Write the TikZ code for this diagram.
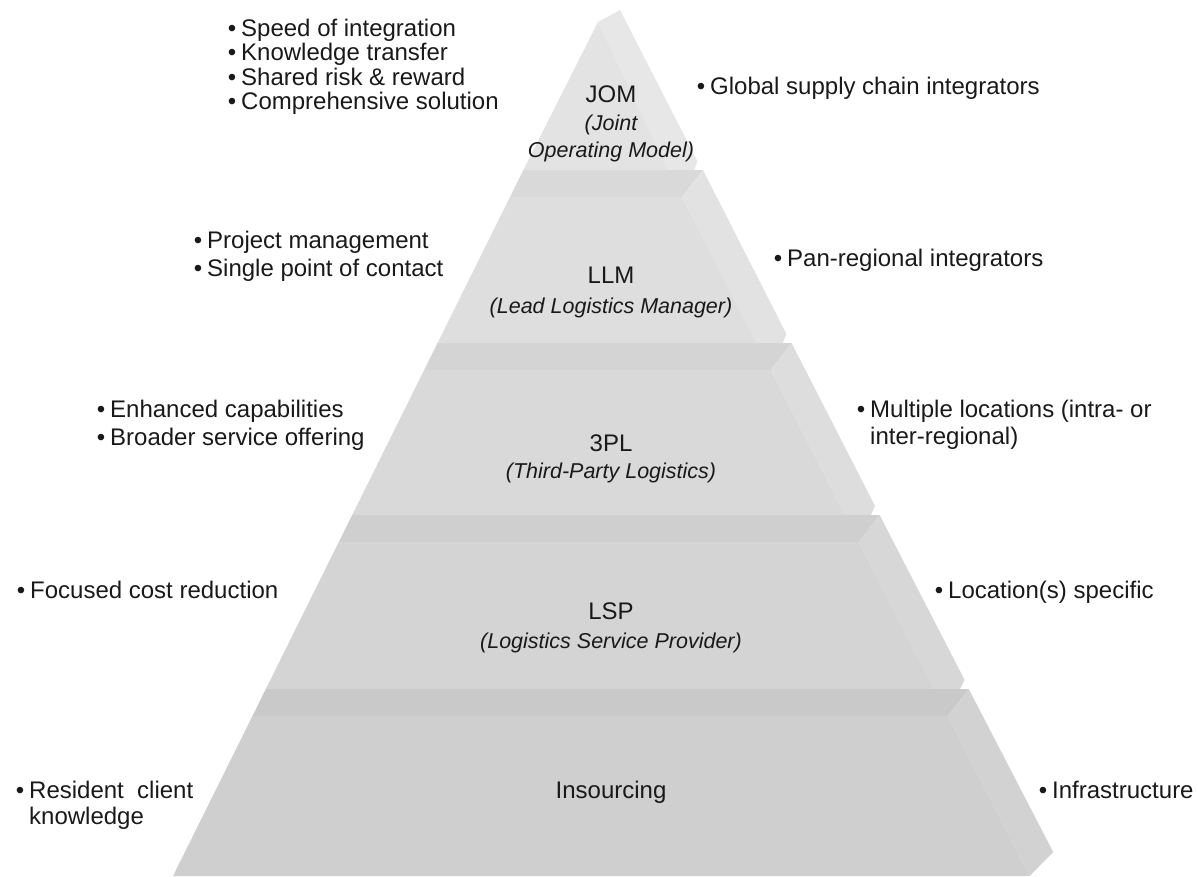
\documentclass[tikz,border=0pt]{standalone}
\usepackage{fontspec}
\setmainfont{Liberation Sans}
\newcommand{\bl}{\llap{•\hspace{5pt}}}
\begin{document}
\begin{tikzpicture}[x=1pt,y=-1pt,
    every node/.style={inner sep=0pt, text=black!90},
    title/.style={anchor=base, font=\fontsize{24}{26}\selectfont},
    subtitle/.style={anchor=base, align=center, font=\fontsize{21.5}{27}\selectfont\itshape},
    note/.style={anchor=base west, align=left, font=\fontsize{24}{24.4}\selectfont}]
        \useasboundingbox (0,0) rectangle (1198,876);

        % Draw the levels from the base upwards (top face, side face, front face)
        \foreach \yt/\yb/\cut/\gap/\ptop/\pface/\pside in {716/876/24/0/21/19/17.5, 542/689/9/26/19/17/15.5, 370/515/9/26/17/15/13.5, 197/343/9/26/15/13/11.5} {
            \pgfmathsetmacro{\lt}{510-0.4963*(\yt-197)}
            \pgfmathsetmacro{\lb}{510-0.4963*(\yb-197)}
            \pgfmathsetmacro{\ls}{510-0.4963*(\yt-27-197)}
            \pgfmathsetmacro{\rt}{682+0.512*(\yt-197)}
            \pgfmathsetmacro{\rb}{682+0.512*(\yb-197)}
            \pgfmathsetmacro{\ro}{703+0.515*(\yb-\cut-172)}
            \fill[black!\ptop] (\ls,\yt-27) -- (\rt+21,\yt-27) -- (\rt,\yt) -- (\lt,\yt) -- cycle;
            \fill[black!\pside] (\rt,\yt) -- (\rt+21,\yt-27) -- (\ro,\yb-\cut) -- (\rb+\gap,\yb) -- (\rb,\yb) -- cycle;
            \fill[black!\pface] (\lt,\yt) -- (\rt,\yt) -- (\rb,\yb) -- (\lb,\yb) -- cycle;
 }

        % Top of the pyramid (JOM)
        \fill[black!9.5] (598,22) -- (620,10) -- (697.3,161) -- (694.2,170) -- (668.2,170) -- cycle;
        \fill[black!11] (598,22) -- (668.2,170) -- (523.4,170) -- cycle;

        % Names of the levels
        \foreach \name/\y/\txt in {ttl0/94/JOM, ttl1/275/LLM, ttl2/443/3PL, ttl3/611/LSP, ttl4/790/Insourcing} {
            \node[title] (\name) at (611,\y+8.6) {\txt};
 }
        \node[subtitle] (sub0) at (611,157.7) {(Joint\\Operating Model)};
        \node[subtitle] (sub1) at (611,313.7) {(Lead Logistics Manager)};
        \node[subtitle] (sub2) at (611,478.7) {(Third-Party Logistics)};
        \node[subtitle] (sub3) at (611,648.7) {(Logistics Service Provider)};

        % Notes on the left (base = last line)
        \node[note] (lft0) at (241,109.6) {\bl Speed of integration\\\bl Knowledge transfer\\\bl Shared risk \& reward\\\bl Comprehensive solution};
        \node[note, font=\fontsize{24}{28}\selectfont] (lft1) at (207,276.6) {\bl Project management\\\bl Single point of contact};
        \node[note, font=\fontsize{24}{28}\selectfont] (lft2) at (110,445.6) {\bl Enhanced capabilities\\\bl Broader service offering};
        \node[note] (lft3) at (30,598.6) {\bl Focused cost reduction};
        \node[note, font=\fontsize{24}{26}\selectfont] (lft4) at (29,824.6) {\bl Resident\ \ client\\knowledge};

        % Notes on the right
        \node[note] (rgt0) at (710,94.6) {\bl Global supply chain integrators};
        \node[note] (rgt1) at (787,266.6) {\bl Pan-regional integrators};
        \node[note, font=\fontsize{24}{27}\selectfont] (rgt2) at (870,444.6) {\bl Multiple locations (intra- or\\inter-regional)};
        \node[note] (rgt3) at (948,598.6) {\bl Location(s) specific};
        \node[note] (rgt4) at (1052,798.6) {\bl Infrastructure};
    \end{tikzpicture}
\end{document}
